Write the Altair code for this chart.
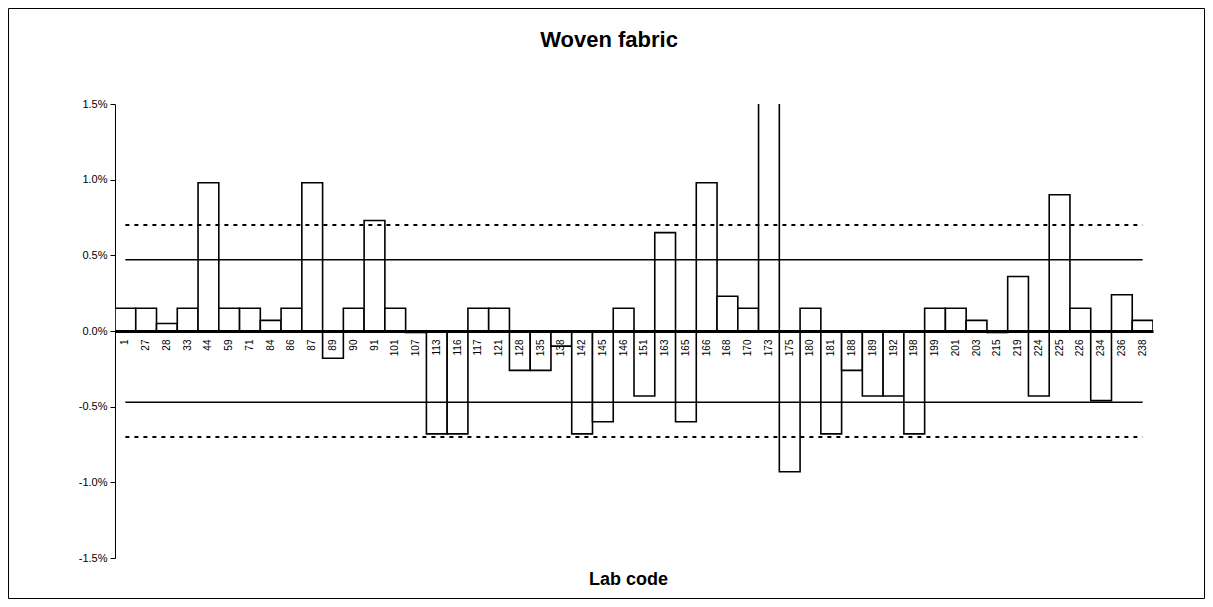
import altair as alt
import pandas as pd

# ---- data ----
labs = ["1", "27", "28", "33", "44", "59", "71", "84", "86", "87",
        "89", "90", "91", "101", "107", "113", "116", "117", "121", "128",
        "135", "138", "142", "145", "146", "151", "163", "165", "166", "168",
        "170", "173", "175", "180", "181", "188", "189", "192", "198", "199",
        "201", "203", "215", "219", "224", "225", "226", "234", "236", "238"]
values_pct = [0.15, 0.15, 0.05, 0.15, 0.98, 0.15, 0.15, 0.07, 0.15, 0.98,
              -0.18, 0.15, 0.73, 0.15, -0.01, -0.68, -0.68, 0.15, 0.15, -0.26,
              -0.26, -0.10, -0.68, -0.60, 0.15, -0.43, 0.65, -0.60, 0.98, 0.23,
              0.15, 2.50, -0.93, 0.15, -0.68, -0.26, -0.43, -0.43, -0.68, 0.15,
              0.15, 0.07, -0.01, 0.36, -0.43, 0.90, 0.15, -0.46, 0.24, 0.07]
inner_limit_pct = 0.47
outer_limit_pct = 0.70
y_ticks_pct = [-1.5, -1.0, -0.5, 0.0, 0.5, 1.0, 1.5]

FONT = "Liberation Sans"
PW, PH = 1038, 454

bars_df = pd.DataFrame({"lab": labs, "value": [v / 100 for v in values_pct]})

def limit_df(val):
    return pd.DataFrame({"lab": labs, "value": [val / 100] * len(labs)})

inner_df = pd.concat([limit_df(inner_limit_pct).assign(s="up"),
                      limit_df(-inner_limit_pct).assign(s="lo")])
outer_df = pd.concat([limit_df(outer_limit_pct).assign(s="up"),
                      limit_df(-outer_limit_pct).assign(s="lo")])

yscale = alt.Scale(domain=[-0.015, 0.015], nice=False, zero=False)
xscale = alt.Scale(paddingInner=0, paddingOuter=0)

x_axis = alt.Axis(
    title="Lab code", orient="bottom", offset=-PH / 2, labelAngle=270,
    labelAlign="right", labelBaseline="middle", labelFont=FONT, labelFontSize=10,
    labelColor="black", labelPadding=8, labelOverlap=False, ticks=False,
    domainColor="black", domainWidth=3, titleFont=FONT, titleFontSize=18,
    titleFontWeight="bold", titleColor="black", titleY=239, titleX=513, zindex=2,
)
y_axis = alt.Axis(
    values=[v / 100 for v in y_ticks_pct],
    labelExpr="replace(format(datum.value, '.1%'), '\u2212', '-')",
    tickSize=5, tickColor="black", domainColor="black", labelFont=FONT,
    labelFontSize=11, labelColor="black", labelPadding=3, grid=False, title=None,
)

frame = alt.Chart(pd.DataFrame({"f": [0]})).mark_rect(
    fill="white", fillOpacity=0, stroke="black", strokeWidth=1, clip=False
).encode(
    x=alt.value(-106.5), x2=alt.value(PW + 51.5),
    y=alt.value(-95.5), y2=alt.value(PH + 40.5),
)

bars = alt.Chart(bars_df).mark_bar(
    fill="white", stroke="black", strokeWidth=1.6, clip=True
).encode(
    x=alt.X("lab:N", sort=labs, scale=xscale, axis=x_axis),
    y=alt.Y("value:Q", scale=yscale, axis=y_axis),
    y2=alt.datum(0),
)

inner = alt.Chart(inner_df).mark_line(color="black", strokeWidth=1.5).encode(
    x=alt.X("lab:N", sort=labs),
    y=alt.Y("value:Q"),
    detail="s:N",
)
outer = alt.Chart(outer_df).mark_line(
    color="black", strokeWidth=2, strokeDash=[4, 5]
).encode(
    x=alt.X("lab:N", sort=labs),
    y=alt.Y("value:Q"),
    detail="s:N",
)

chart = alt.layer(bars, inner, outer, frame).properties(
    width=PW, height=PH,
    autosize=alt.AutoSizeParams(type="none"),
    padding={"left": 107, "top": 96, "right": 52, "bottom": 41},
    title=alt.TitleParams("Woven fabric", font=FONT, fontSize=22, fontWeight="bold",
                          color="black", anchor="middle", dx=-25, offset=-44,
                          baseline="top"),
).configure(background="white").configure_view(stroke="transparent", strokeWidth=0)

chart.save("out.html", embed_options={"renderer": "svg", "actions": False})
